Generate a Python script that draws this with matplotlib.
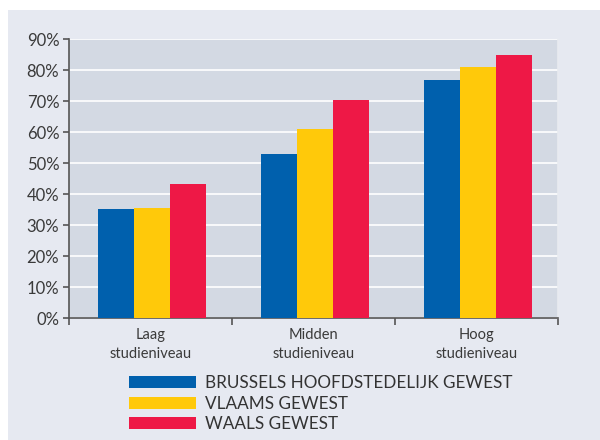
import numpy as np
import matplotlib.pyplot as plt
from matplotlib.patches import Rectangle, Patch

plt.rcParams['font.family'] = ['Lato', 'DejaVu Sans']

# arbeidsdeelname per studieniveau en gewest
niveaus = ['Laag\nstudieniveau', 'Midden\nstudieniveau', 'Hoog\nstudieniveau']
gewesten = ['BRUSSELS HOOFDSTEDELIJK GEWEST', 'VLAAMS GEWEST', 'WAALS GEWEST']
brussel = [35.2, 52.9, 76.8]
vlaanderen = [35.6, 61.0, 81.0]
wallonie = [43.2, 70.3, 84.8]
kleuren = ['#0060ad', '#ffc90a', '#ee1846']

fig = plt.figure(figsize=(6, 4.4), dpi=100)
fig.patch.set_facecolor('white')
fig.add_artist(Rectangle((8 / 600, 0), 1, 1 - 10 / 440, transform=fig.transFigure,
                         facecolor='#e6e9f1', edgecolor='none', zorder=0))

ax = fig.add_axes([69 / 600, 1 - 318 / 440, 489 / 600, 279 / 440])
ax.set_facecolor('#d3d9e3')

x = np.arange(len(niveaus))
w = 0.222
for i, (reeks, kleur) in enumerate(zip([brussel, vlaanderen, wallonie], kleuren)):
    ax.bar(x + (i - 1) * w + 0.01, reeks, width=w, color=kleur, zorder=3)

ax.set_xlim(-0.5, 2.5)
ax.set_ylim(0, 90)
ax.set_yticks(np.arange(0, 91, 10))
ax.set_yticklabels([f'{v}%' for v in range(0, 91, 10)], fontsize=12, color='#3a3a3a')
ax.yaxis.grid(True, color='white', linewidth=1.2, zorder=1)
ax.set_axisbelow(True)

ax.set_xticks(x)
ax.set_xticklabels(niveaus, fontsize=10.5, color='#3a3a3a', linespacing=1.45)
ax.set_xticks([-0.5, 0.5, 1.5, 2.5], minor=True)
ax.tick_params(axis='x', which='major', length=0, pad=7)
ax.tick_params(axis='x', which='minor', length=5, color='#555555', width=1.2)
ax.tick_params(axis='y', length=4, color='#555555', width=1.2, pad=3)

for s in ['left', 'bottom']:
    ax.spines[s].set_color('#555555')
    ax.spines[s].set_linewidth(1.2)
ax.spines['top'].set_visible(False)
ax.spines['right'].set_color('#e8ebf0')
ax.spines['right'].set_linewidth(1.2)

handles = [Patch(facecolor=k, edgecolor='none') for k in kleuren]
fig.legend(handles, gewesten, loc='upper left', bbox_to_anchor=(114 / 600, 1 - 360 / 440),
           frameon=False, fontsize=12.3, handlelength=3.9, handleheight=0.72,
           handletextpad=0.55, labelspacing=0.26, labelcolor='#333333')

fig.savefig('out.png', dpi=100, facecolor=fig.get_facecolor())
